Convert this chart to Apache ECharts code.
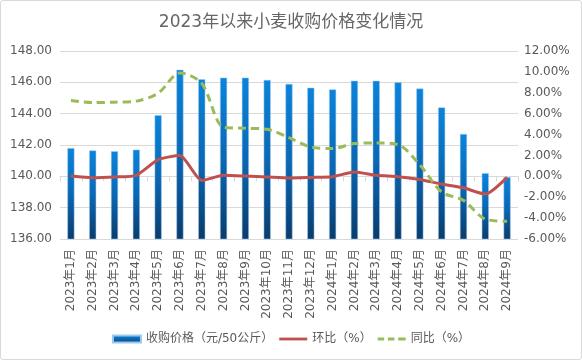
<!DOCTYPE html>
<html><head><meta charset="utf-8">
<script src="https://cdn.jsdelivr.net/npm/echarts@6/dist/echarts.min.js"></script>
<style>html,body{margin:0;padding:0;background:#fff}#c{width:580px;height:358px;border:1px solid #d9d9d9;border-radius:3px}</style>
</head><body><div id="c"></div>
<script>
const categories = ['2023年1月','2023年2月','2023年3月','2023年4月','2023年5月','2023年6月','2023年7月','2023年8月','2023年9月','2023年10月','2023年11月','2023年12月','2024年1月','2024年2月','2024年3月','2024年4月','2024年5月','2024年6月','2024年7月','2024年8月','2024年9月'];
const price = [141.8,141.65,141.6,141.7,143.9,146.8,146.2,146.3,146.3,146.15,145.9,145.65,145.55,146.1,146.1,146.0,145.6,144.4,142.7,140.2,139.95];
const mom = [0.03,-0.13,-0.06,0.1,1.6,2.0,-0.4,0.1,0.03,-0.06,-0.16,-0.1,-0.03,0.42,0.1,-0.03,-0.3,-0.74,-1.1,-1.7,-0.1];
const yoy = [7.25,7.06,7.1,7.2,7.96,9.9,8.9,4.7,4.6,4.5,3.7,2.8,2.66,3.14,3.2,3.04,1.1,-1.5,-2.3,-4.1,-4.3];
const names = ['收购价格（元/50公斤）','环比（%）','同比（%）'];
const F = 'DejaVu Sans, Noto Sans CJK SC, sans-serif';
const chart = echarts.init(document.getElementById('c'));
chart.setOption({
  animation:false,
  textStyle:{fontFamily:F},
  title:{text:'2023年以来小麦收购价格变化情况',left:'center',top:8,textStyle:{fontFamily:F,fontSize:17,fontWeight:'normal',color:'#666666'}},
  grid:{left:59,right:63,top:50,bottom:120},
  legend:{bottom:9,itemGap:6,itemWidth:28,itemHeight:7,textStyle:{fontFamily:F,fontSize:12,color:'#595959'},
    data:[{name:names[0],icon:'rect'},
          {name:names[1],icon:'path://M0,0h30v3h-30z',itemStyle:{color:'#c0504d'}},
          {name:names[2],icon:'path://M0,0h7v3h-7zM11,0h7v3h-7zM22,0h8v3h-8z',itemStyle:{color:'#9bbb59'}}]},
  xAxis:{type:'category',data:categories,
    axisLine:{lineStyle:{color:'#d9d9d9'}},
    axisTick:{show:true,alignWithLabel:false,length:5,lineStyle:{color:'#d9d9d9'}},
    axisLabel:{rotate:90,interval:0,fontSize:12,color:'#595959',fontFamily:F,margin:10}},
  yAxis:[
    {type:'value',min:136,max:148,interval:2,axisLabel:{formatter:v=>v.toFixed(2),fontSize:12,color:'#595959',fontFamily:F,margin:8},
     splitLine:{lineStyle:{color:'#d9d9d9'}},axisLine:{show:false},axisTick:{show:false}},
    {type:'value',min:-6,max:12,interval:2,axisLabel:{formatter:v=>v.toFixed(2)+'%',fontSize:12,color:'#595959',fontFamily:F,margin:6},
     splitLine:{show:false},axisLine:{show:false},axisTick:{show:false}}
  ],
  series:[
    {name:names[0],type:'bar',data:price,barWidth:7,yAxisIndex:0,
     itemStyle:{borderColor:'#9cc8ef',borderWidth:0.5,
       color:new echarts.graphic.LinearGradient(0,0,0,1,[{offset:0,color:'#0a84db'},{offset:0.5,color:'#0b68b4'},{offset:1,color:'#0a3c6c'}])}},
    {name:names[1],type:'line',data:mom,yAxisIndex:1,symbol:'none',smooth:0.2,
     lineStyle:{color:'#c0504d',width:3},itemStyle:{color:'#c0504d'}},
    {name:names[2],type:'line',data:yoy,yAxisIndex:1,symbol:'none',smooth:0.3,
     lineStyle:{color:'#9bbb59',width:3,type:[8,5]},itemStyle:{color:'#9bbb59'}}
  ]
});
</script></body></html>
